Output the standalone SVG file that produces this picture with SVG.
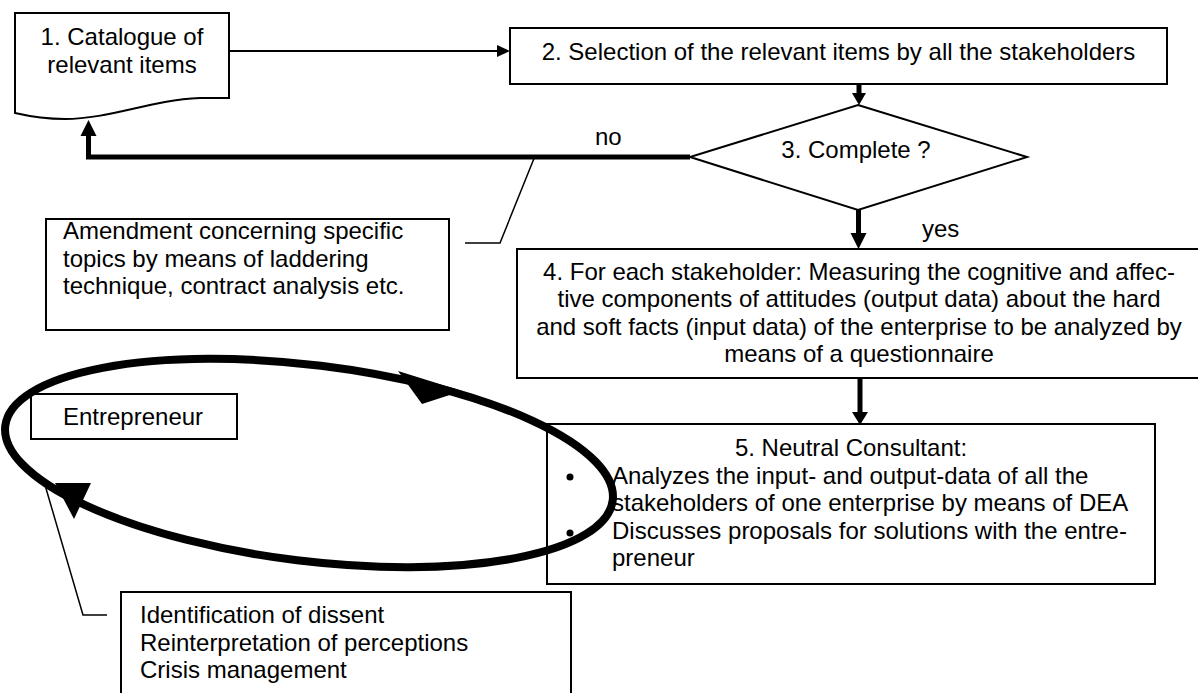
<svg xmlns="http://www.w3.org/2000/svg" width="1198" height="693" viewBox="0 0 1198 693">
  <defs>
    <style>
      .box{fill:#fff;stroke:#000;stroke-width:2}
      .t{font-family:"Liberation Sans",Arial,sans-serif;font-size:24px;fill:#000}
      .mid{text-anchor:middle}
      .thin{fill:none;stroke:#000;stroke-width:1.5}
      .flow{fill:none;stroke:#000;stroke-width:5}
      .head{fill:#000}
    </style>
  </defs>
  <rect width="1198" height="693" fill="#fff"/>

  <!-- process nodes -->
  <g id="catalogue">
    <path class="box" d="M15,13 H229 V98 H200 C150,100 110,119 65,119 C45,119 28,116 15,113 Z"/>
    <text class="t mid" x="122" y="45">1. Catalogue of</text>
    <text class="t mid" x="122" y="73">relevant items</text>
  </g>

  <g id="selection">
    <rect class="box" x="510" y="28" width="657" height="56"/>
    <text class="t mid" x="838.5" y="60">2. Selection of the relevant items by all the stakeholders</text>
  </g>

  <g id="complete">
    <polygon class="box" points="858,105 1027,157 858,210 690,157"/>
    <text class="t mid" x="856" y="158">3. Complete ?</text>
  </g>

  <g id="measuring">
    <rect class="box" x="517" y="249" width="684" height="129"/>
    <text class="t mid" x="859" y="280">4. For each stakeholder: Measuring the cognitive and affec-</text>
    <text class="t mid" x="859" y="307.4">tive components of attitudes (output data) about the hard</text>
    <text class="t mid" x="859" y="334.8">and soft facts (input data) of the enterprise to be analyzed by</text>
    <text class="t mid" x="859" y="362.2">means of a questionnaire</text>
  </g>

  <g id="consultant">
    <rect class="box" x="547" y="424" width="608" height="160"/>
    <text class="t mid" x="851" y="456">5. Neutral Consultant:</text>
    <circle cx="570" cy="477" r="3.5"/>
    <text class="t" x="612" y="483.6">Analyzes the input- and output-data of all the</text>
    <text class="t" x="612" y="511.2">stakeholders of one enterprise by means of DEA</text>
    <circle cx="570" cy="533" r="3.5"/>
    <text class="t" x="612" y="538.8">Discusses proposals for solutions with the entre-</text>
    <text class="t" x="612" y="566.4">preneur</text>
  </g>

  <g id="amendment">
    <rect class="box" x="46" y="219" width="403" height="111"/>
    <text class="t" x="63" y="239">Amendment concerning specific</text>
    <text class="t" x="63" y="266.5">topics by means of laddering</text>
    <text class="t" x="63" y="294">technique, contract analysis etc.</text>
  </g>

  <g id="entrepreneur">
    <rect class="box" x="31" y="394" width="206" height="45"/>
    <text class="t" x="63" y="425">Entrepreneur</text>
  </g>

  <g id="dissent">
    <rect class="box" x="121" y="592" width="450" height="115"/>
    <text class="t" x="140" y="623">Identification of dissent</text>
    <text class="t" x="140" y="650.6">Reinterpretation of perceptions</text>
    <text class="t" x="140" y="678.2">Crisis management</text>
  </g>

  <!-- connectors -->
  <g id="connectors">
    <line x1="229" y1="51" x2="498" y2="51" stroke="#000" stroke-width="2"/>
    <polygon class="head" points="497,45 510,51 497,57"/>

    <line class="flow" x1="859" y1="84" x2="859" y2="94"/>
    <polygon class="head" points="852,93 866,93 859,105"/>

    <polyline class="flow" points="690,157 88.5,157 88.5,135"/>
    <polygon class="head" points="80.5,136 96.5,136 88.5,120"/>
    <text class="t" x="595" y="145">no</text>

    <line class="flow" x1="858.5" y1="210" x2="858.5" y2="234"/>
    <polygon class="head" points="850.5,233 866.5,233 858.5,249"/>
    <text class="t" x="922" y="237">yes</text>

    <line class="flow" x1="860" y1="378" x2="860" y2="413"/>
    <polygon class="head" points="852,412 868,412 860,425"/>

    <polyline class="thin" points="465,243 500,243 535,156"/>
    <polyline class="thin" points="45,485 83,615 107,615"/>

    <!-- feedback loop between entrepreneur and consultant -->
    <ellipse cx="309" cy="463" rx="306" ry="98" transform="rotate(7 309 463)" fill="none" stroke="#000" stroke-width="8"/>
    <polygon class="head" points="398,371 422,404 462,391"/>
    <polygon class="head" points="55,483 91,483 74,519"/>
  </g>
</svg>
